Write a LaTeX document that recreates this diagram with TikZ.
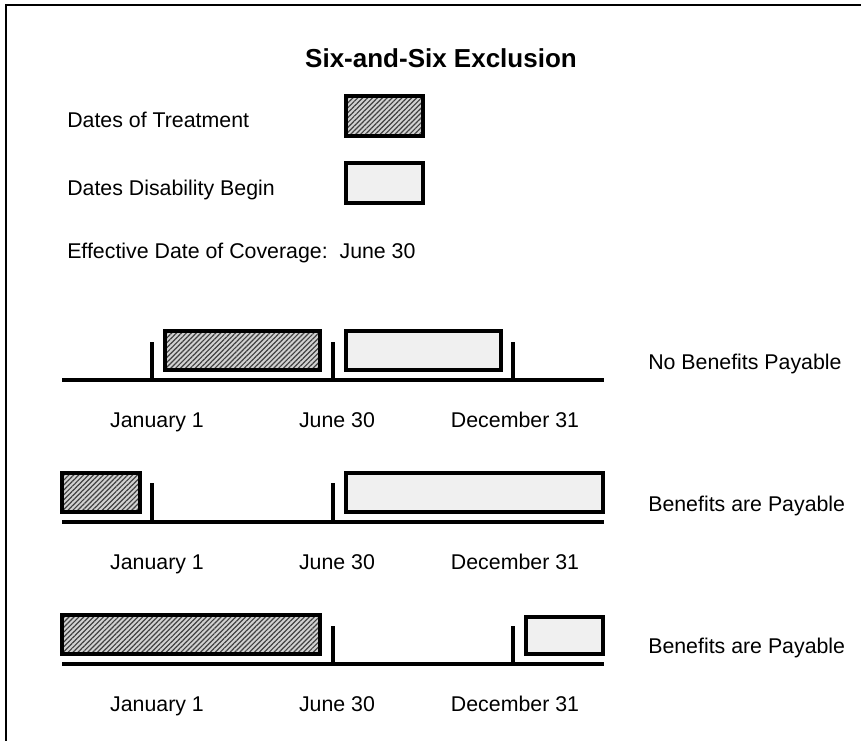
\documentclass[tikz,border=0pt]{standalone}
\usepackage{fontspec}
\setmainfont{Liberation Sans}
\usetikzlibrary{patterns.meta}

\tikzset{
  treatbox/.style={draw, line width=2.4pt, preaction={fill=gray!35},
    pattern={Lines[angle=45, distance=2.6pt, line width=0.9pt]}, pattern color=black!75},
  disabbox/.style={draw, line width=2.4pt, fill=gray!12},
  base/.style={line width=2.4pt},
  tick/.style={line width=2.4pt},
  txt/.style={inner sep=0pt, anchor=base west, font=\fontsize{16}{19}\selectfont},
  datelbl/.style={txt, anchor=base},
}

\begin{document}
\begin{tikzpicture}[x=0.75pt, y=-0.75pt]
  \useasboundingbox (0,0) rectangle (861,740);
  % frame
  \draw[line width=1.6pt] (6,745) -- (6,5) -- (870,5);

  \node[txt, anchor=base, font=\bfseries\fontsize{19.5}{23}\selectfont] (title) at (441,67) {Six-and-Six Exclusion};

  % legend
  \node[txt] (legtreat) at (67,127) {Dates of Treatment};
  \draw[treatbox] (346,96) rectangle (423,136);
  \node[txt] (legdis) at (67,195) {Dates Disability Begin};
  \draw[disabbox] (346,163) rectangle (423,203);
  \node[txt] (effdate) at (67,258) {Effective Date of Coverage:\ \ June 30};

  % first timeline
  \draw[treatbox] (165,331) rectangle (320,370);
  \draw[disabbox] (346,331) rectangle (501,370);
  \draw[tick] (152,342) -- (152,380);
  \draw[tick] (333,342) -- (333,380);
  \draw[tick] (513,342) -- (513,380);
  \draw[base] (62,380) -- (604,380);
  \node[txt] (res1) at (648,369) {No Benefits Payable};

  % second timeline
  \draw[treatbox] (62,473) rectangle (140,512);
  \draw[disabbox] (346,473) rectangle (603,512);
  \draw[tick] (152,483) -- (152,522);
  \draw[tick] (333,483) -- (333,522);
  \draw[base] (62,522) -- (604,522);
  \node[txt] (res2) at (648,511) {Benefits are Payable};

  % third timeline
  \draw[treatbox] (62,615) rectangle (320,654);
  \draw[disabbox] (526,617) rectangle (603,654);
  \draw[tick] (333,626) -- (333,664);
  \draw[tick] (513,626) -- (513,664);
  \draw[base] (62,664) -- (604,664);
  \node[txt] (res3) at (648,653) {Benefits are Payable};

  % dates under each line
  \foreach \k/\y in {1/427, 2/569, 3/711} {
    \node[datelbl] (jan\k) at (157,\y) {January 1};
    \node[datelbl] (jun\k) at (337,\y) {June 30};
    \node[datelbl] (dec\k) at (515,\y) {December 31};
  }
\end{tikzpicture}
\end{document}
